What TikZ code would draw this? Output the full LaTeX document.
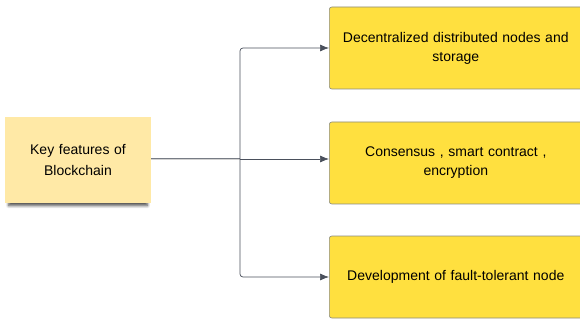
\documentclass[tikz,border=0pt]{standalone}
\usepackage{fontspec}
\setmainfont{Liberation Sans}
\usetikzlibrary{arrows.meta,shadows.blur}
\definecolor{keyfill}{HTML}{FFE9A6}
\definecolor{boxfill}{HTML}{FFE03F}
\definecolor{boxline}{HTML}{8A8A80}
\definecolor{conn}{HTML}{4A505C}
\tikzset{
  featbox/.style={draw=boxline, line width=0.6pt, fill=boxfill, rounded corners=2.5pt,
    minimum width=253pt, minimum height=82pt, text width=245pt, align=center,
    font=\fontsize{14pt}{19pt}\selectfont, inner sep=0pt},
  keybox/.style={fill=keyfill, minimum width=146pt, minimum height=86pt, text width=140pt,
    align=center, font=\fontsize{14pt}{21pt}\selectfont, inner sep=0pt,
    blur shadow={shadow xshift=0pt, shadow yshift=-5pt, shadow scale=0.95, shadow blur steps=5, shadow blur radius=3pt, shadow opacity=70}},
  conn/.style={draw=conn, line width=0.7pt, rounded corners=3pt, -{Latex[length=9pt,width=7pt]}},
}
\begin{document}
\begin{tikzpicture}[x=1pt,y=-1pt]
\useasboundingbox (0,0) rectangle (580,320);
\node[keybox] (key) at (78,160) {Key features of\\Blockchain};
\node[featbox, anchor=west] (b1) at (329,48) {Decentralized distributed nodes and\\storage};
\node[featbox, anchor=west] (b2) at (329,163) {Consensus , smart contract ,\\encryption};
\node[featbox, anchor=west] (b3) at (329,277) {Development of fault-tolerant node};
\coordinate (j) at (240,159);
\draw[draw=conn!75, double=gray!35, double distance=0.9pt, line width=0.6pt] (key.east |- j) -- (j);
\draw[conn] (j) |- (b1.west |- 0,48);
\draw[conn] (j) -- (b2.west |- j);
\draw[conn] (j) |- (b3.west);
\end{tikzpicture}
\end{document}
